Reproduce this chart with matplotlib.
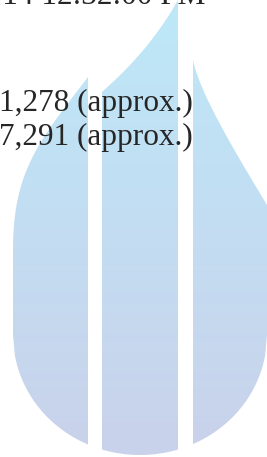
import matplotlib
matplotlib.use('Agg')
import matplotlib.pyplot as plt
import numpy as np
from matplotlib.path import Path
from matplotlib.patches import PathPatch

# text rows
header_text = '2014 12:32:00 PM'
count_values = ['1,278', '7,291']
count_note = '(approx.)'

# watermark colours (top -> bottom)
logo_top = np.array([189, 232, 248]) / 255
logo_bottom = np.array([201, 210, 235]) / 255

W, H = 267, 457
fig = plt.figure(figsize=(W / 100, H / 100), dpi=100)
ax = fig.add_axes([0, 0, 1, 1])
ax.set_xlim(0, W)
ax.set_ylim(H, 0)
ax.axis('off')

# --- watermark: three blades inside a shield outline ---
cx, R = 140, 127          # shield centre and half width
y_side, b = 335, 120      # where the sides start to curve, depth of the curve


def bottom(x):
    r = np.clip((x - cx) / R, -1, 1)
    return y_side + b * np.sqrt(1 - r ** 2)


def bezier(p0, p1, p2, p3, n=40):
    t = np.linspace(0, 1, n)[:, None]
    return ((1 - t) ** 3 * np.array(p0) + 3 * (1 - t) ** 2 * t * np.array(p1)
            + 3 * (1 - t) * t ** 2 * np.array(p2) + t ** 3 * np.array(p3))


def blade(x0, x1, top):
    # top: points from left to right along the upper edge
    xs = np.linspace(x1, x0, 40)
    bot = np.column_stack([xs, bottom(xs)])
    verts = np.vstack([top, [[x1, y_side]], bot, [[x0, y_side]], top[:1]])
    return Path(verts)


left_top = bezier((13, 250), (13, 170), (40, 140), (88, 77))
mid_top = bezier((102, 92), (115, 80), (150, 50), (178, 0))
right_top = bezier((193, 60), (200, 95), (240, 160), (267, 205))
blades = [blade(13, 88, left_top),
          blade(102, 178, mid_top),
          blade(193, 267, right_top)]

frac = np.linspace(0, 1, 256)[:, None]
grad = (logo_top * (1 - frac) + logo_bottom * frac)[:, None, :]
for p in blades:
    patch = PathPatch(p, facecolor='none', edgecolor='none')
    ax.add_patch(patch)
    im = ax.imshow(grad, extent=[0, W, H, 0], aspect='auto', zorder=1,
                   interpolation='bilinear')
    im.set_clip_path(patch)

# --- text ---
font = dict(family='Liberation Serif', size=22.5, color='#262626', zorder=3)
ax.text(205, 4, header_text, ha='right', va='baseline', **font)
for i, v in enumerate(count_values):
    ax.text(193, 111 + 34 * i, v + ' ' + count_note, ha='right', va='baseline', **font)

ax.set_xlim(0, W)
ax.set_ylim(H, 0)
plt.savefig('out.png', dpi=100)
